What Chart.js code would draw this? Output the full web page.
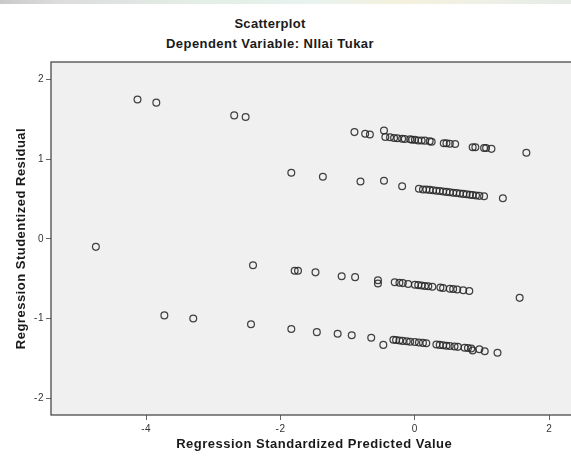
<!DOCTYPE html>
<html>
<head>
<meta charset="utf-8">
<script src="https://cdn.jsdelivr.net/npm/chart.js@4"></script>
<style>
  html, body { margin: 0; padding: 0; background: #ffffff; overflow: hidden; width: 571px; height: 461px; }
  #strip { position: absolute; left: 0; top: 0; width: 571px; height: 4px;
    background: linear-gradient(to right, #c9c9c9 0%, #dcdcdc 10%, #e4eee8 35%, #e8f2ee 55%, #f4f1dc 70%, #eef0e6 85%, #e6ebe6 100%); }
  .ttl { position: absolute; left: 0; width: 540px; text-align: center; font-family: "Liberation Sans", Arial, sans-serif; font-weight: bold; color: #1a1a1a; line-height: 1; }
  #wrap { position: absolute; left: 0; top: 0; width: 582px; height: 461px; }
</style>
</head>
<body>
<div id="strip"></div>
<div class="ttl" style="top:17px; font-size:13px; letter-spacing:0.3px;">Scatterplot</div>
<div class="ttl" style="top:37px; font-size:13px; letter-spacing:0.45px;">Dependent Variable: NIlai Tukar</div>
<div id="wrap"><canvas id="c" width="582" height="461"></canvas></div>
<script>
// Regression Standardized Predicted Value (x) and Regression Studentized Residual (y)
const predictedValues = [
  -4.75, -4.13, -3.85, -3.73, -3.30, -2.69, -2.52, -2.41, -2.44, -1.84,
  -1.79, -1.74, -1.48, -1.84, -1.37, -1.46, -1.15, -1.09, -0.94, -0.90,
  -0.89, -0.81, -0.74, -0.67, -0.65, -0.55, -0.55, -0.47, -0.46, -0.46,
  -0.19, 1.66, 1.31, 1.56, 1.04, 1.23, 0.86,
  // upper band
  -0.44, -0.37, -0.31, -0.26, -0.19, -0.15, -0.07, -0.04, 0.00, 0.05,
  0.10, 0.15, 0.22, 0.25, 0.43, 0.47, 0.52, 0.60, 0.86, 0.90,
  1.03, 1.06, 1.14,
  // second band
  0.06, 0.12, 0.17, 0.22, 0.27, 0.32, 0.37, 0.42, 0.47, 0.52,
  0.57, 0.62, 0.67, 0.72, 0.77, 0.82, 0.86, 0.91, 0.96, 1.03,
  // third band
  -0.30, -0.23, -0.18, -0.10, 0.00, 0.05, 0.10, 0.15, 0.20, 0.26,
  0.38, 0.42, 0.52, 0.57, 0.63, 0.72, 0.81,
  // lower band
  -0.32, -0.28, -0.23, -0.18, -0.12, -0.07, 0.00, 0.06, 0.12, 0.17,
  0.32, 0.37, 0.42, 0.47, 0.52, 0.59, 0.64, 0.74, 0.79, 0.84, 0.96
];
const residualValues = [
  -0.10, 1.75, 1.71, -0.96, -1.00, 1.55, 1.53, -0.33, -1.07, 0.83,
  -0.40, -0.40, -0.42, -1.13, 0.78, -1.17, -1.19, -0.47, -1.21, 1.34,
  -0.48, 0.72, 1.32, 1.31, -1.24, -0.52, -0.56, -1.33, 1.36, 0.73,
  0.66, 1.08, 0.51, -0.74, -1.41, -1.43, -1.40,
  // upper band
  1.28, 1.275, 1.266, 1.262, 1.258, 1.254, 1.25, 1.245, 1.245, 1.236,
  1.236, 1.233, 1.224, 1.22, 1.20, 1.20, 1.195, 1.19, 1.15, 1.15,
  1.14, 1.14, 1.13,
  // second band
  0.63, 0.62, 0.62, 0.615, 0.61, 0.605, 0.60, 0.595, 0.59, 0.585,
  0.58, 0.575, 0.57, 0.565, 0.56, 0.555, 0.55, 0.545, 0.54, 0.535,
  // third band
  -0.545, -0.55, -0.555, -0.565, -0.575, -0.58, -0.585, -0.59, -0.595, -0.60,
  -0.61, -0.615, -0.625, -0.63, -0.635, -0.645, -0.655,
  // lower band
  -1.265, -1.27, -1.275, -1.28, -1.285, -1.29, -1.295, -1.30, -1.305, -1.31,
  -1.325, -1.33, -1.335, -1.34, -1.345, -1.35, -1.355, -1.365, -1.37, -1.375, -1.385
];
const xTickValues = [-4, -2, 0, 2];
const yTickValues = [-2, -1, 0, 1, 2];
const xAxisTitle = "Regression Standardized Predicted Value";
const yAxisTitle = "Regression Studentized Residual";

const points = predictedValues.map((x, i) => ({ x: x, y: residualValues[i] }));

const plotFrame = {
  id: 'plotFrame',
  beforeDraw(chart) {
    // slightly wider letter spacing, like the reference's hinted bold titles
    try { chart.ctx.letterSpacing = '0.5px'; } catch (e) {}
  },
  beforeDatasetsDraw(chart) {
    const a = chart.chartArea, ctx = chart.ctx;
    ctx.save();
    ctx.fillStyle = '#f0f0f0';
    ctx.fillRect(a.left, a.top, a.right - a.left, a.bottom - a.top);
    ctx.restore();
  },
  afterDatasetsDraw(chart) {
    const a = chart.chartArea, ctx = chart.ctx;
    ctx.save();
    ctx.strokeStyle = '#4a4a4a';
    ctx.lineWidth = 1.3;
    ctx.strokeRect(a.left, a.top, a.right - a.left, a.bottom - a.top);
    ctx.restore();
  }
};

const tickFont = { family: '"Liberation Sans", Arial, sans-serif', size: 10 };
const titleFont = { family: '"Liberation Sans", Arial, sans-serif', size: 13, weight: 'bold' };

new Chart(document.getElementById('c'), {
  type: 'scatter',
  data: {
    datasets: [{
      data: points,
      pointStyle: 'circle',
      pointRadius: 3.4,
      pointBorderWidth: 1.25,
      borderColor: 'rgba(40,40,40,0.88)',
      backgroundColor: 'rgba(0,0,0,0)',
      pointHoverRadius: 3.4
    }]
  },
  options: {
    responsive: false,
    animation: false,
    layout: { padding: { left: 0, right: 2, top: 62, bottom: 0 } },
    plugins: { legend: { display: false }, tooltip: { enabled: false }, title: { display: false } },
    scales: {
      x: {
        type: 'linear',
        min: -5.418, max: 2.419,
        afterBuildTicks(scale) { scale.ticks = xTickValues.map(v => ({ value: v })); },
        afterFit(scale) { scale.height = 46; },
        grid: { drawOnChartArea: false, drawTicks: true, tickLength: 5, color: '#666', tickWidth: 1 },
        border: { display: false },
        ticks: { color: '#333', font: tickFont, padding: 3, maxRotation: 0 },
        title: { display: true, text: xAxisTitle, color: '#1a1a1a', font: titleFont, padding: { top: 0, bottom: 9 } }
      },
      y: {
        type: 'linear',
        min: -2.21, max: 2.22,
        afterBuildTicks(scale) { scale.ticks = yTickValues.map(v => ({ value: v })); },
        afterFit(scale) { scale.width = 51; },
        grid: { drawOnChartArea: false, drawTicks: true, tickLength: 5, color: '#666', tickWidth: 1 },
        border: { display: false },
        ticks: { color: '#333', font: tickFont, padding: 2 },
        title: { display: true, text: yAxisTitle, color: '#1a1a1a', font: titleFont, padding: { top: 13.5, bottom: 0 } }
      }
    }
  },
  plugins: [plotFrame]
});
</script>
</body>
</html>
